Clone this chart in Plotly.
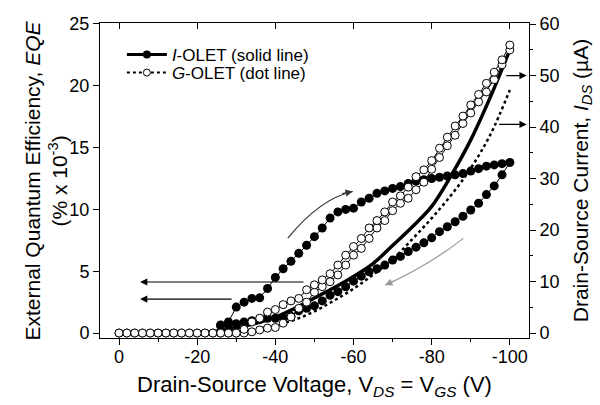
import plotly.graph_objects as go

# ---------------- data ----------------
# I-OLET EQE (filled circles), forward sweep (V magnitude, EQE %x1e-3)
i_fwd_v = [26, 28, 30, 32, 34, 36, 38, 40, 42, 44, 46, 48, 50, 52, 54, 56, 58, 60, 62, 64,
           66, 68, 70, 72, 74, 76, 78, 80, 82, 84, 86, 88, 90, 92, 94, 96, 98, 100]
i_fwd_eqe = [0.65, 0.9, 2.1, 2.5, 2.8, 2.85, 3.6, 4.5, 5.2, 5.8, 6.45, 7.1, 7.8, 8.5, 9.3, 9.8,
             10.0, 10.1, 10.6, 10.9, 11.3, 11.5, 11.7, 11.85, 12.1, 12.3, 12.4, 12.5, 12.6, 12.7,
             12.8, 12.9, 13.1, 13.3, 13.5, 13.6, 13.7, 13.8]
# I-OLET EQE backward sweep
i_bwd_v = [98, 96, 94, 92, 90, 88, 86, 84, 82, 80, 78, 76, 74, 72, 70, 68, 66, 64, 62, 60,
           58, 56, 54, 52, 50, 48, 46, 44, 42, 40, 38, 36, 34, 32, 30, 28, 26]
i_bwd_eqe = [12.8, 11.9, 11.2, 10.5, 9.95, 9.45, 9.0, 8.6, 8.2, 7.7, 7.3, 6.95, 6.6, 6.2, 5.9,
             5.5, 5.2, 4.95, 4.6, 4.2, 3.75, 3.35, 3.05, 2.6, 2.2, 2.0, 1.8, 1.35, 1.25, 1.2,
             1.2, 1.1, 1.0, 0.9, 0.75, 0.65, 0.6]

# G-OLET EQE (open circles), forward sweep
g_fwd_v = list(range(0, 101, 2))
g_fwd_eqe = [0] * 17 + [0.1, 0.25, 0.4, 0.45, 0.8, 1.3, 2.0, 2.5, 3.3, 3.75, 4.15, 4.7, 5.5,
                        6.3, 6.85, 7.65, 8.5, 9.1, 9.9, 10.5, 10.9, 11.6, 12.2, 13.25, 14.2,
                        15.15, 16.0, 16.95, 17.8, 18.7, 19.5, 20.5, 21.7, 22.9]
# G-OLET EQE backward sweep
g_bwd_v = list(range(100, -1, -2))
g_bwd_eqe = [23.3, 22.1, 21.1, 20.2, 19.3, 18.45, 17.55, 16.75, 15.85, 14.95, 13.95, 13.2,
             12.65, 11.8, 11.1, 10.6, 9.8, 9.1, 8.5, 7.65, 7.0, 6.3, 5.5, 4.8, 4.3, 3.9, 3.5,
             2.8, 2.6, 2.3, 1.9, 1.7, 1.2, 0.9, 0.3] + [0] * 16

# Drain-source current (uA)
ids_v = [0, 5, 10, 15, 20, 25, 30, 35, 40, 45, 50, 55, 60, 65, 70, 75, 80, 85, 90, 95, 100]
ids_i_olet = [0, 0, 0, 0, 0, 0.4, 1.0, 1.9, 3.1, 4.8, 6.8, 8.8, 11.0, 13.5, 17.0, 20.6, 24.6,
              30.6, 37.5, 45.8, 55.0]
ids_g_olet = [0, 0, 0, 0, 0, 0, 0.3, 0.8, 1.5, 2.6, 4.2, 6.3, 8.6, 11.3, 14.3, 18.2, 22.3,
              26.8, 32.0, 38.5, 47.2]

x_tick_vals = [0, -20, -40, -60, -80, -100]
x_tick_text = ["0", "-20", "-40", "-60", "-80", "-100"]
eqe_ticks = [0, 5, 10, 15, 20, 25]
ids_ticks = [0, 10, 20, 30, 40, 50, 60]

FONT = "Liberation Sans, Arial, sans-serif"

def neg(vs):
    return [-v for v in vs]

fig = go.Figure()

# IDS curves (base layer, right axis)
fig.add_trace(go.Scatter(x=neg(ids_v), y=ids_i_olet, mode="lines",
                         line=dict(color="black", width=3.5, shape="spline", smoothing=1.0),
                         xaxis="x", yaxis="y", showlegend=False, hoverinfo="skip"))
fig.add_trace(go.Scatter(x=neg(ids_v), y=ids_g_olet, mode="lines",
                         line=dict(color="black", width=2.5, dash="dot", shape="spline", smoothing=1.0),
                         xaxis="x", yaxis="y", showlegend=False, hoverinfo="skip"))
# dummy trace for top axis
fig.add_trace(go.Scatter(x=[None], y=[None], xaxis="x2", yaxis="y", showlegend=False, hoverinfo="skip"))

# EQE markers (overlay layer, left axis)
fig.add_trace(go.Scatter(x=neg(i_fwd_v + i_bwd_v), y=i_fwd_eqe + i_bwd_eqe, mode="lines+markers",
                         line=dict(color="black", width=1),
                         marker=dict(symbol="circle", size=9, color="black"),
                         xaxis="x", yaxis="y2", showlegend=False, hoverinfo="skip"))
fig.add_trace(go.Scatter(x=neg(g_fwd_v + g_bwd_v), y=g_fwd_eqe + g_bwd_eqe, mode="lines+markers",
                         line=dict(color="black", width=1),
                         marker=dict(symbol="circle", size=8, color="white", line=dict(color="black", width=1)),
                         xaxis="x", yaxis="y2", showlegend=False, hoverinfo="skip"))

# legend entries (one legend box per row for exact placement)
fig.add_trace(go.Scatter(x=[None], y=[None], mode="lines+markers", name="<i>I</i>-OLET (solid line)",
                         line=dict(color="black", width=3), marker=dict(size=8, color="black"),
                         xaxis="x", yaxis="y2", legend="legend"))
fig.add_trace(go.Scatter(x=[None], y=[None], mode="lines+markers", name="<i>G</i>-OLET (dot line)",
                         line=dict(color="black", width=2, dash="dot"),
                         marker=dict(size=7, color="white", line=dict(color="black", width=1)),
                         xaxis="x", yaxis="y2", legend="legend2"))

xr = [4.86, -104.9]
leg_common = dict(xanchor="left", yanchor="middle", bgcolor="rgba(0,0,0,0)",
                  font=dict(size=17), itemwidth=40)
fig.update_layout(
    width=600, height=405,
    margin=dict(l=100, r=71, t=23, b=67, autoexpand=False),
    paper_bgcolor="white", plot_bgcolor="white",
    font=dict(family=FONT, color="black", size=17),
    xaxis=dict(range=xr, tickvals=x_tick_vals, ticktext=x_tick_text, ticks="outside", ticklen=6,
               tickwidth=1, tickcolor="black", showline=True, linecolor="black", linewidth=1,
               showgrid=False, zeroline=False, tickfont=dict(size=18), ticklabelstandoff=-4,
               automargin=False,
               minor=dict(ticks="outside", tickvals=[-10, -30, -50, -70, -90], ticklen=3, tickcolor="black"),
               title=dict(text="Drain-Source Voltage, V<sub><i>DS</i></sub> = V<sub><i>GS</i></sub> (V)",
                          font=dict(size=22), standoff=11),
               anchor="y"),
    xaxis2=dict(range=xr, overlaying="x", side="top", tickvals=x_tick_vals, ticks="inside", ticklen=6,
                tickcolor="black", showticklabels=False, showline=True, linecolor="black", linewidth=1,
                showgrid=False, zeroline=False, anchor="y", automargin=False),
    yaxis=dict(range=[-0.96, 60.2], side="right", tickvals=ids_ticks, ticks="outside", ticklen=6,
               tickcolor="black", showline=True, linecolor="black", linewidth=1, showgrid=False,
               zeroline=False, tickfont=dict(size=18), automargin=False,
               minor=dict(ticks="outside", tickvals=[5, 15, 25, 35, 45, 55], ticklen=3, tickcolor="black"),
               title=dict(text="Drain-Source Current, <i>I</i><sub><i>DS</i></sub> (µA)", font=dict(size=21), standoff=14),
               anchor="x"),
    yaxis2=dict(range=[-0.4, 25.08], overlaying="y", side="left", tickvals=eqe_ticks, ticks="outside",
                ticklen=6, tickcolor="black", showline=True, linecolor="black", linewidth=1,
                showgrid=False, zeroline=False, tickfont=dict(size=18), automargin=False,
                anchor="x"),
    legend=dict(x=0.051, y=(338 - 55) / 315, **leg_common),
    legend2=dict(x=0.051, y=(338 - 73) / 315, **leg_common),
    showlegend=True,
)

# left axis title as a rotated two-line annotation (precise placement)
fig.add_annotation(text="External Quantum Efficiency, <i>EQE</i><br>(% x 10<sup>-3</sup>)",
                   xref="paper", yref="paper", x=(45 - 100) / 429, y=0.5,
                   xanchor="center", yanchor="middle", textangle=-90, showarrow=False,
                   font=dict(size=21, family=FONT, color="black"))

# straight arrows
arrows = [
    dict(x=-5.4, y=4.13, ax=-47.6, ay=4.13, yref="y2", ayref="y2"),
    dict(x=-5.4, y=2.75, ax=-29.2, ay=2.75, yref="y2", ayref="y2"),
    dict(x=-104.3, y=50, ax=-98.7, ay=50, yref="y", ayref="y"),
    dict(x=-104.3, y=40.5, ax=-96.9, ay=40.5, yref="y", ayref="y"),
]
for a in arrows:
    fig.add_annotation(x=a["x"], y=a["y"], ax=a["ax"], ay=a["ay"], xref="x", yref=a["yref"],
                       axref="x", ayref=a["ayref"], showarrow=True, arrowhead=2, arrowsize=1.2,
                       arrowwidth=1.2, arrowcolor="black", text="")

# curved sweep-direction arrows
fig.add_shape(type="path", xref="x", yref="y2",
              path="M -43.2,7.67 Q -51.4,10.87 -59.8,11.45",
              line=dict(color="#333333", width=1.2))
fig.add_annotation(x=-59.8, y=11.45, ax=-12, ay=2.5, xref="x", yref="y2", axref="pixel", ayref="pixel",
                   showarrow=True, arrowhead=2, arrowsize=1.2, arrowwidth=1.2, arrowcolor="#333333", text="")
fig.add_shape(type="path", xref="x", yref="y2",
              path="M -88.1,7.66 Q -79.0,5.42 -68.1,3.88",
              line=dict(color="#999999", width=1.2))
fig.add_annotation(x=-68.1, y=3.88, ax=11, ay=-5, xref="x", yref="y2", axref="pixel", ayref="pixel",
                   showarrow=True, arrowhead=2, arrowsize=1.2, arrowwidth=1.2, arrowcolor="#999999", text="")

fig.write_html("out.html", config={"displayModeBar": False},
               post_script="document.body.style.margin='0';")
